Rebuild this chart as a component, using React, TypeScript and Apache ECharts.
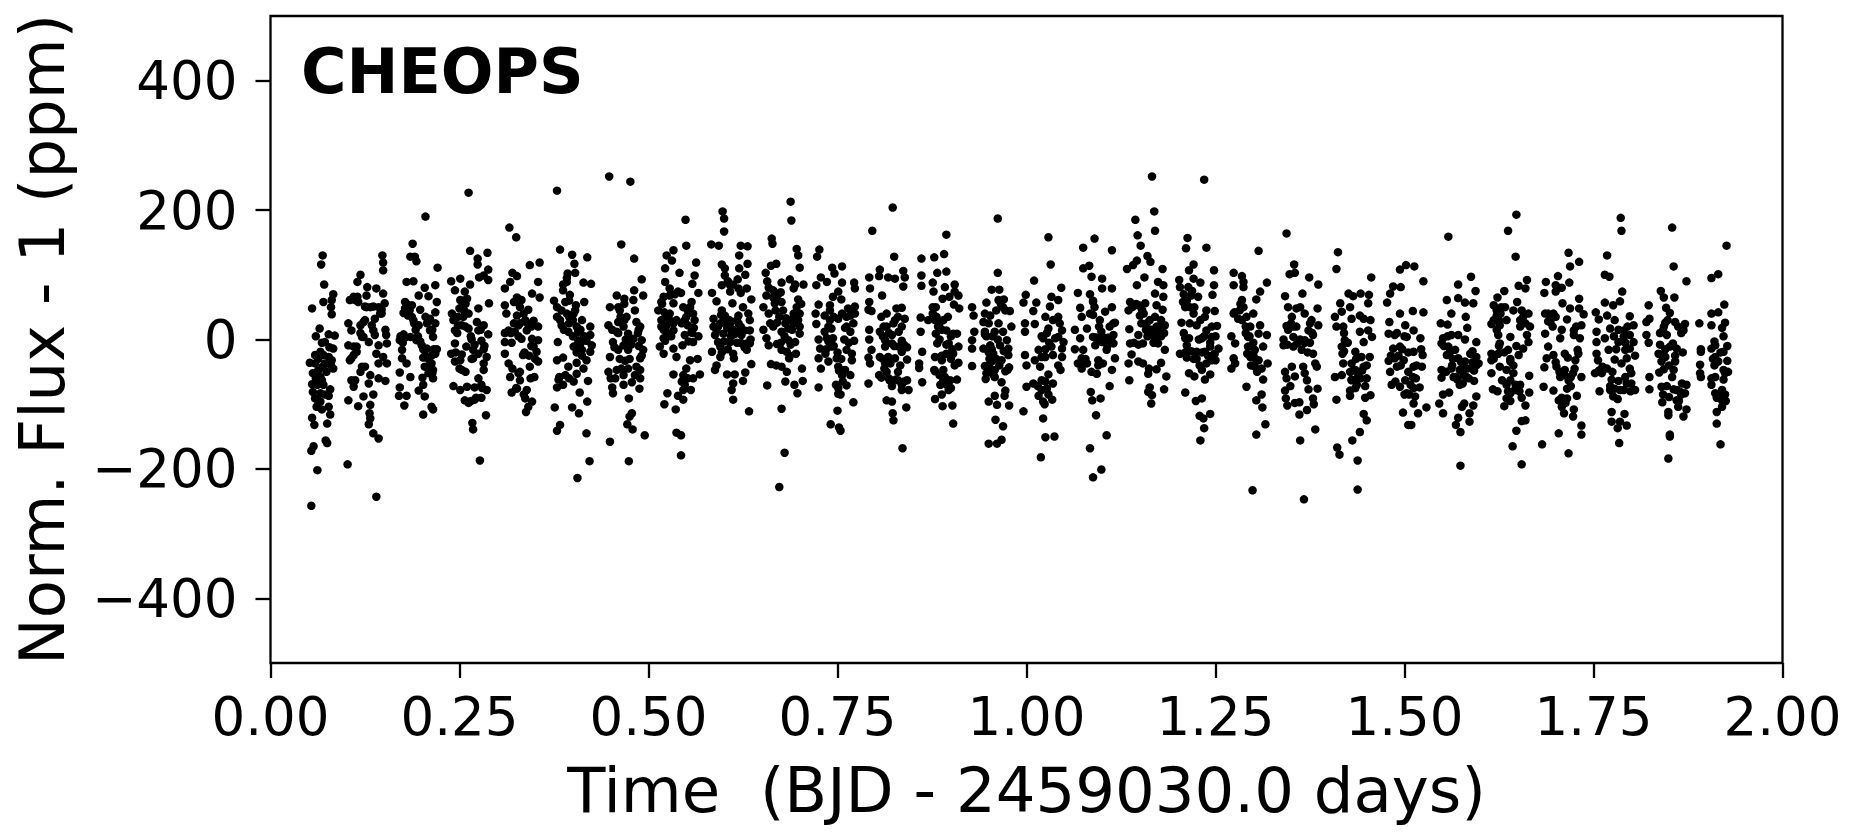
import React, { useEffect, useRef } from "react";
import * as echarts from "echarts";

const xTicks = [0, 0.25, 0.5, 0.75, 1, 1.25, 1.5, 1.75, 2];
const yTicks = [-400, -200, 0, 200, 400];
const panelLabel = "CHEOPS";
const xTitle = "Time  (BJD - 2459030.0 days)";
const yTitle = "Norm. Flux - 1 (ppm)";

const orbit01 = [[.054,-257],[.062,-202],[.054,-172],[.057,-165],[.073,-156],[.075,-160],[.055,-121],[.058,-132],[.075,-130],[.079,-116],[.061,-104],[.068,-108],[.077,-104],[.063,-94],[.059,-91],[.077,-87],[.056,-81],[.055,-69],[.066,-83],[.070,-70],[.079,-77],[.066,-58],[.063,-48],[.068,-63],[.052,-36],[.059,-37],[.072,-37],[.083,-45],[.081,-32],[.083,-14],[.066,-19],[.059,-24],[.070,-24],[.077,-27],[.072,-4],[.077,8],[.085,6],[.060,5],[.065,17],[.055,48],[.070,58],[.081,61],[.083,70],[.081,39],[.080,50],[.071,85],[.067,116],[.069,130],[.062,-70],[.072,-85],[.060,-60],[.074,-50],[.063,-30],[.078,-12],[.056,-52],[.066,-96],[.069,-42],[.080,-40],[.068,-5]];
const orbit02 = [[.102,-193],[.140,-243],[.103,-94],[.116,-103],[.132,-101],[.131,-114],[.132,-122],[.130,-131],[.136,-145],[.143,-153],[.123,-88],[.136,-85],[.107,-63],[.110,-73],[.130,-68],[.143,-60],[.152,-64],[.119,-50],[.125,-42],[.132,-55],[.105,-32],[.110,-24],[.140,-22],[.149,-27],[.154,-37],[.143,-37],[.103,-9],[.114,-11],[.121,4],[.130,-4],[.143,-9],[.154,-6],[.153,7],[.152,15],[.136,14],[.119,10],[.107,14],[.103,25],[.123,27],[.138,32],[.147,40],[.143,50],[.151,56],[.132,50],[.125,51],[.105,61],[.115,66],[.127,68],[.149,71],[.140,79],[.128,81],[.115,89],[.119,100],[.149,107],[.149,119],[.148,130],[.112,61],[.110,66],[.116,58],[.119,22],[.125,30],[.110,-11],[.114,-19],[.107,-29],[.123,4],[.134,22],[.138,7],[.145,40],[.147,46],[.127,50],[.136,51],[.121,-42],[.112,-63]];
const orbit03 = [[.205,190],[.188,148],[.185,128],[.191,128],[.193,121],[.221,111],[.180,89],[.189,90],[.218,84],[.204,80],[.209,67],[.196,68],[.178,58],[.220,58],[.187,53],[.198,46],[.176,41],[.218,42],[.182,37],[.189,30],[.207,25],[.218,25],[.196,22],[.211,14],[.176,8],[.185,4],[.215,4],[.171,-1],[.193,-1],[.200,-9],[.174,-16],[.207,-14],[.218,-22],[.174,-29],[.180,-37],[.202,-28],[.213,-37],[.204,-42],[.171,-51],[.185,-58],[.201,-59],[.215,-47],[.215,-60],[.209,-52],[.171,-74],[.202,-70],[.196,-79],[.170,-87],[.180,-87],[.204,-88],[.177,-102],[.213,-104],[.202,-116],[.215,-108],[.180,55],[.184,45],[.187,35],[.190,25],[.192,15],[.195,5],[.198,-3],[.202,-15],[.205,-25],[.209,-30],[.213,-25],[.210,-40],[.214,-52],[.182,50],[.178,48],[.172,5],[.175,-5],[.178,3],[.205,35],[.211,32],[.214,15],[.216,-15],[.220,-15]];
const orbit04 = [[.262,227],[.264,137],[.287,134],[.274,125],[.274,116],[.288,108],[.282,99],[.288,92],[.276,96],[.239,90],[.251,94],[.264,85],[.244,76],[.257,74],[.251,61],[.260,63],[.289,56],[.275,48],[.253,50],[.262,40],[.240,40],[.242,30],[.253,22],[.273,27],[.282,22],[.262,17],[.244,14],[.275,14],[.288,8],[.266,0],[.279,-2],[.244,-6],[.259,-11],[.268,-16],[.282,-15],[.239,-22],[.253,-23],[.275,-22],[.286,-27],[.251,-32],[.268,-29],[.244,-34],[.282,-37],[.253,-47],[.282,-47],[.275,-60],[.242,-72],[.251,-78],[.260,-73],[.270,-74],[.279,-70],[.286,-78],[.279,-90],[.270,-93],[.262,-98],[.257,-94],[.285,-117],[.267,-129],[.268,-139],[.277,-187],[.255,60],[.258,55],[.256,45],[.250,48],[.248,35],[.255,35],[.248,22],[.258,20],[.247,10],[.265,5],[.270,-8],[.266,-30],[.278,15],[.283,-10],[.258,-50],[.250,-45],[.245,-20],[.272,-90],[.265,-95],[.280,-75]];
const orbit05 = [[.316,173],[.325,158],[.343,115],[.356,119],[.320,103],[.326,98],[.317,89],[.354,89],[.310,79],[.346,71],[.356,65],[.326,58],[.332,61],[.310,53],[.341,46],[.312,40],[.326,37],[.337,30],[.348,29],[.354,20],[.328,22],[.315,14],[.339,14],[.323,12],[.310,-4],[.319,-5],[.332,1],[.346,1],[.354,-1],[.348,-11],[.310,-22],[.334,-24],[.352,-19],[.315,-37],[.343,-42],[.354,-34],[.328,-52],[.317,-58],[.330,-63],[.349,-58],[.319,-82],[.326,-76],[.339,-78],[.337,-91],[.346,-96],[.341,-104],[.338,-112],[.326,65],[.330,50],[.322,58],[.335,40],[.330,25],[.322,25],[.340,25],[.345,20],[.318,10],[.328,5],[.345,-10],[.336,-20],[.310,10],[.342,-25],[.350,-30],[.320,-45],[.330,-50],[.344,-60],[.325,-75],[.335,-85]];
const orbit06 = [[.379,230],[.383,139],[.399,131],[.419,127],[.402,117],[.393,102],[.403,103],[.414,88],[.424,86],[.392,89],[.387,76],[.396,69],[.415,58],[.379,50],[.390,58],[.404,53],[.379,35],[.392,40],[.403,45],[.385,22],[.412,30],[.423,20],[.394,12],[.407,12],[.423,7],[.380,-4],[.407,-1],[.425,-9],[.401,-11],[.412,-16],[.423,-19],[.379,-32],[.387,-28],[.405,-36],[.418,-32],[.394,-42],[.414,-45],[.382,-58],[.390,-55],[.405,-53],[.420,-64],[.401,-65],[.387,-70],[.379,-74],[.409,-82],[.419,-96],[.376,-105],[.399,-105],[.408,-114],[.383,-132],[.379,-141],[.418,-145],[.422,-188],[.406,-214],[.395,35],[.400,30],[.405,20],[.410,15],[.400,5],[.415,5],[.418,-2],[.405,-10],[.410,-6],[.405,-20],[.412,-25],[.395,25],[.385,45],[.383,30],[.388,15],[.381,-62],[.395,-60],[.392,95],[.387,85],[.395,60],[.401,40],[.375,60]];
const orbit07 = [[.448,252],[.476,244],[.464,147],[.481,125],[.491,93],[.481,76],[.493,68],[.458,68],[.468,63],[.480,61],[.449,50],[.462,45],[.482,45],[.471,35],[.460,27],[.447,22],[.484,27],[.467,20],[.489,20],[.458,12],[.473,9],[.491,-1],[.453,-4],[.467,-9],[.480,1],[.460,-16],[.473,-16],[.493,-16],[.449,-27],[.489,-29],[.469,-33],[.484,-42],[.458,-47],[.447,-50],[.473,-45],[.489,-47],[.467,-55],[.450,-60],[.489,-60],[.478,-66],[.467,-70],[.452,-74],[.488,-76],[.453,-83],[.474,-91],[.478,-114],[.475,-119],[.472,-131],[.479,-139],[.495,-148],[.449,-158],[.474,-188],[.460,50],[.463,35],[.468,30],[.460,10],[.452,15],[.470,0],[.477,-8],[.455,-12],[.462,-30],[.475,-30],[.487,15],[.491,-25],[.486,10],[.487,-10],[.456,-60],[.464,-45],[.482,-55],[.468,55]];
const orbit08 = [[.549,185],[.550,145],[.533,138],[.524,130],[.531,122],[.563,119],[.522,110],[.541,103],[.561,99],[.522,89],[.558,86],[.528,79],[.539,74],[.566,72],[.520,66],[.533,56],[.557,58],[.517,58],[.546,50],[.513,45],[.528,40],[.559,40],[.550,35],[.517,30],[.537,30],[.561,30],[.524,22],[.533,14],[.557,12],[.548,7],[.566,5],[.520,2],[.559,-4],[.515,-11],[.545,-9],[.533,-14],[.520,-22],[.537,-27],[.565,-30],[.555,-32],[.550,-45],[.568,-54],[.533,-54],[.559,-60],[.544,-65],[.546,-78],[.556,-78],[.525,-83],[.539,-87],[.546,-93],[.521,-100],[.536,-108],[.537,-144],[.543,-148],[.543,-179],[.518,55],[.521,42],[.524,35],[.528,30],[.520,15],[.525,10],[.533,25],[.530,5],[.517,20],[.522,-2],[.548,30],[.552,22],[.555,50],[.560,18],[.544,25],[.553,-3],[.558,10],[.528,68],[.535,70],[.543,72],[.552,45],[.546,-55],[.552,-60],[.548,-70]];
const orbit09 = [[.598,198],[.600,187],[.600,167],[.583,147],[.593,145],[.622,145],[.631,144],[.620,130],[.631,117],[.597,116],[.601,110],[.620,110],[.628,100],[.601,99],[.618,93],[.597,84],[.608,84],[.630,79],[.619,79],[.608,74],[.584,72],[.636,62],[.590,59],[.611,56],[.625,50],[.597,45],[.632,40],[.586,32],[.601,37],[.619,37],[.608,25],[.634,30],[.586,20],[.595,25],[.619,25],[.634,14],[.588,7],[.610,12],[.599,9],[.623,7],[.592,-4],[.608,-4],[.630,-6],[.634,-6],[.595,-11],[.630,-16],[.584,-19],[.612,-22],[.595,-27],[.613,-29],[.590,-40],[.588,-47],[.636,-38],[.628,-51],[.604,-54],[.614,-54],[.625,-64],[.612,-68],[.610,-78],[.612,-93],[.633,-111],[.596,38],[.600,28],[.604,18],[.609,5],[.612,15],[.617,30],[.622,20],[.627,14],[.617,-5],[.600,-3],[.605,-15],[.622,-5],[.627,-12],[.635,0],[.590,15],[.592,20],[.605,90],[.612,85],[.622,72],[.597,-20],[.607,30],[.613,8],[.618,10]];
const orbit10 = [[.688,213],[.689,184],[.663,156],[.664,148],[.696,140],[.698,130],[.669,117],[.662,114],[.700,111],[.655,103],[.687,93],[.657,90],[.676,88],[.705,85],[.692,79],[.665,76],[.656,68],[.672,71],[.698,62],[.676,58],[.667,56],[.652,50],[.692,40],[.659,40],[.700,40],[.673,35],[.689,30],[.698,30],[.670,26],[.681,25],[.652,15],[.685,17],[.676,12],[.700,9],[.656,2],[.685,-1],[.694,-4],[.659,-9],[.670,-7],[.676,-16],[.683,-19],[.695,-22],[.686,-29],[.662,-38],[.669,-40],[.676,-42],[.683,-50],[.703,-45],[.681,-65],[.704,-64],[.657,-71],[.693,-70],[.697,-83],[.676,-107],[.680,-175],[.673,-228],[.659,80],[.667,65],[.670,62],[.675,73],[.668,45],[.695,35],[.700,20],[.690,15],[.680,5],[.675,-5],[.688,-8],[.692,25],[.696,50],[.661,25],[.665,20],[.682,33],[.687,-25],[.665,65],[.678,45],[.694,85],[.702,55]];
const orbit11 = [[.726,139],[.723,128],[.756,113],[.743,111],[.746,102],[.728,96],[.736,89],[.722,84],[.756,88],[.772,88],[.773,79],[.751,74],[.744,66],[.755,62],[.725,54],[.740,53],[.764,48],[.773,51],[.721,40],[.733,37],[.756,40],[.767,37],[.740,30],[.722,24],[.751,32],[.771,25],[.742,17],[.762,20],[.767,12],[.725,0],[.736,2],[.744,2],[.759,0],[.772,-2],[.727,-14],[.742,-11],[.734,-22],[.762,-16],[.769,-22],[.725,-29],[.738,-34],[.749,-29],[.769,-32],[.728,-45],[.751,-42],[.760,-47],[.756,-55],[.767,-55],[.725,-74],[.748,-70],[.762,-71],[.751,-84],[.754,-85],[.771,-97],[.750,-110],[.741,-131],[.752,-136],[.754,-141],[.740,45],[.745,35],[.738,20],[.733,12],[.745,-10],[.738,-3],[.735,-15],[.750,-20],[.755,-30],[.752,-48],[.757,-48],[.762,35],[.768,45],[.760,18],[.765,-5],[.773,40],[.757,-65],[.751,-75]];
const orbit12 = [[.796,168],[.823,204],[.825,128],[.806,108],[.837,106],[.805,98],[.839,96],[.792,96],[.817,96],[.826,94],[.793,79],[.837,82],[.809,68],[.792,58],[.795,44],[.791,46],[.835,49],[.828,48],[.815,40],[.808,35],[.839,32],[.826,30],[.835,20],[.811,20],[.792,15],[.831,12],[.806,12],[.822,7],[.813,-1],[.792,0],[.822,-6],[.831,-11],[.842,-12],[.795,-16],[.813,-11],[.835,-19],[.791,-28],[.806,-27],[.817,-27],[.842,-31],[.826,-29],[.793,-37],[.813,-37],[.833,-40],[.815,-50],[.808,-59],[.791,-68],[.819,-63],[.830,-63],[.842,-63],[.822,-72],[.835,-78],[.844,-78],[.815,-94],[.822,-96],[.841,-105],[.823,-114],[.824,-125],[.836,-168],[.824,25],[.830,35],[.815,20],[.810,5],[.818,10],[.825,-10],[.835,-2],[.838,-8],[.812,-45],[.818,-60],[.827,-62],[.835,-70],[.810,-30],[.820,-37],[.805,-55],[.830,-50],[.838,-65]];
const orbit13 = [[.894,162],[.878,127],[.891,132],[.861,125],[.861,99],[.882,103],[.894,105],[.861,83],[.876,88],[.877,74],[.892,81],[.905,85],[.905,74],[.910,68],[.898,66],[.889,63],[.904,54],[.911,48],[.896,35],[.876,40],[.860,34],[.879,30],[.890,30],[.883,20],[.880,9],[.860,12],[.894,14],[.903,9],[.908,9],[.882,-6],[.897,-6],[.910,-11],[.862,-19],[.894,-22],[.903,-22],[.879,-27],[.888,-32],[.910,-36],[.858,-37],[.858,-44],[.879,-49],[.890,-47],[.890,-63],[.908,-62],[.899,-63],[.862,-66],[.886,-70],[.897,-78],[.888,-85],[.879,-92],[.889,-103],[.902,-102],[.903,-130],[.881,35],[.885,25],[.888,15],[.885,0],[.888,-25],[.894,-8],[.900,5],[.902,-15],[.900,-30],[.878,-47],[.885,-55],[.892,-58],[.895,-70],[.900,-75],[.876,50],[.880,50],[.870,30],[.905,-40]];
const orbit14 = [[.962,187],[.962,103],[.954,77],[.964,77],[.963,61],[.970,62],[.947,57],[.969,50],[.978,44],[.928,50],[.930,37],[.945,40],[.952,37],[.943,27],[.963,25],[.931,12],[.980,20],[.969,12],[.958,12],[.947,5],[.928,-1],[.974,-1],[.952,-9],[.928,-14],[.943,-14],[.965,-9],[.976,-14],[.956,-22],[.976,-24],[.967,-32],[.954,-34],[.945,-41],[.928,-41],[.977,-43],[.952,-47],[.972,-49],[.956,-54],[.946,-61],[.958,-58],[.967,-66],[.972,-79],[.971,-87],[.958,-87],[.950,-96],[.961,-101],[.977,-102],[.959,-124],[.969,-134],[.950,-161],[.961,-161],[.967,-155],[.960,45],[.966,55],[.972,45],[.950,25],[.955,5],[.945,8],[.962,0],[.954,-15],[.950,-20],[.960,-30],[.950,-40],[.964,-40],[.970,-18],[.975,-47],[.947,-52],[.951,-30],[.945,12],[.958,-47]];
const orbit15 = [[1.029,158],[1.032,116],[1.010,91],[1.046,80],[1.033,66],[1.042,61],[1.013,57],[1.031,51],[1.009,44],[1.025,35],[1.042,35],[1.011,24],[1.044,25],[1.029,17],[1.047,14],[1.022,2],[1.042,4],[1.049,-4],[1.033,-11],[1.016,-16],[1.047,-14],[1.025,-27],[1.011,-32],[1.035,-24],[1.047,-27],[1.018,-42],[1.042,-40],[1.045,-47],[1.029,-54],[1.020,-63],[1.035,-68],[1.009,-68],[1.027,-76],[1.016,-87],[1.034,-93],[1.024,-100],[1.022,-122],[1.025,-151],[1.037,-150],[1.019,-182],[.999,69],[.996,57],[.998,25],[.998,12],[.998,-24],[1.000,-40],[1.000,-73],[.996,-111],[1.020,5],[1.030,-5],[1.038,2],[1.025,-15],[1.020,-27],[1.027,10],[1.035,30],[1.025,-65],[1.020,-78],[1.015,-72],[1.029,-85],[1.022,-96]];
const orbit16 = [[1.090,156],[1.075,142],[1.113,138],[1.083,114],[1.075,110],[1.086,97],[1.100,94],[1.100,79],[1.113,79],[1.068,72],[1.084,70],[1.088,58],[1.113,50],[1.071,49],[1.104,43],[1.088,38],[1.073,35],[1.097,30],[1.117,26],[1.064,15],[1.080,17],[1.110,20],[1.099,12],[1.071,2],[1.088,4],[1.115,7],[1.104,-4],[1.115,-6],[1.064,-15],[1.075,-16],[1.091,-9],[1.106,-16],[1.073,-29],[1.095,-32],[1.117,-29],[1.080,-37],[1.068,-37],[1.101,-37],[1.073,-45],[1.093,-53],[1.086,-50],[1.113,-47],[1.110,-72],[1.085,-81],[1.098,-91],[1.087,-94],[1.092,-117],[1.106,-148],[1.084,-168],[1.099,-201],[1.088,-213],[1.090,50],[1.096,20],[1.092,3],[1.100,5],[1.094,-2],[1.100,-4],[1.108,3],[1.112,0],[1.107,-10],[1.088,60],[1.078,-30],[1.073,-40],[1.084,40],[1.115,25],[1.095,-40]];
const orbit17 = [[1.166,252],[1.169,198],[1.144,185],[1.170,168],[1.147,161],[1.151,145],[1.160,129],[1.146,122],[1.164,120],[1.141,115],[1.133,109],[1.180,109],[1.156,96],[1.174,89],[1.146,84],[1.181,84],[1.170,71],[1.181,66],[1.137,58],[1.157,56],[1.148,53],[1.172,53],[1.135,45],[1.180,46],[1.150,37],[1.170,35],[1.159,25],[1.183,22],[1.136,16],[1.172,20],[1.148,7],[1.179,9],[1.168,7],[1.137,-6],[1.154,-6],[1.174,-6],[1.183,-16],[1.139,-23],[1.135,-37],[1.148,-34],[1.154,-37],[1.178,-36],[1.162,-45],[1.172,-46],[1.161,-53],[1.185,-57],[1.136,-63],[1.163,-74],[1.182,-77],[1.161,-81],[1.166,-86],[1.165,-99],[1.145,55],[1.140,50],[1.150,52],[1.155,40],[1.152,25],[1.158,15],[1.165,15],[1.172,10],[1.178,5],[1.182,10],[1.160,5],[1.168,-5],[1.175,20],[1.148,-8],[1.142,-5],[1.153,45],[1.178,30],[1.170,0],[1.163,30]];
const orbit18 = [[1.235,247],[1.213,157],[1.211,141],[1.238,142],[1.221,116],[1.215,107],[1.248,107],[1.202,92],[1.221,94],[1.230,88],[1.214,81],[1.248,84],[1.203,81],[1.246,69],[1.218,68],[1.227,66],[1.207,58],[1.210,50],[1.216,50],[1.238,45],[1.249,44],[1.221,40],[1.236,35],[1.205,26],[1.216,25],[1.225,22],[1.252,21],[1.238,14],[1.210,2],[1.232,2],[1.245,4],[1.212,-9],[1.243,-11],[1.254,-14],[1.203,-22],[1.225,-19],[1.236,-19],[1.249,-22],[1.212,-28],[1.221,-30],[1.245,-32],[1.229,-40],[1.238,-37],[1.232,-47],[1.215,-52],[1.222,-57],[1.243,-54],[1.236,-62],[1.210,-82],[1.224,-95],[1.232,-91],[1.243,-115],[1.229,-118],[1.234,-122],[1.235,-137],[1.230,-156],[1.208,70],[1.212,60],[1.219,75],[1.222,50],[1.230,30],[1.235,5],[1.243,-5],[1.240,-25],[1.245,-25],[1.232,-20],[1.250,-32],[1.225,-30],[1.215,2],[1.208,10],[1.210,-20],[1.245,20],[1.250,5],[1.218,-18],[1.228,0]];
const orbit19 = [[1.307,137],[1.274,103],[1.285,98],[1.318,88],[1.287,89],[1.274,84],[1.309,74],[1.287,81],[1.304,62],[1.285,61],[1.287,50],[1.274,40],[1.300,40],[1.291,35],[1.280,32],[1.309,22],[1.296,20],[1.271,5],[1.318,7],[1.293,4],[1.307,9],[1.276,-6],[1.293,-11],[1.313,-11],[1.302,-16],[1.274,-29],[1.296,-27],[1.307,-32],[1.319,-37],[1.276,-37],[1.271,-45],[1.302,-42],[1.311,-45],[1.313,-62],[1.291,-73],[1.311,-85],[1.304,-94],[1.312,-105],[1.316,-131],[1.304,-147],[1.299,-233],[1.275,42],[1.282,45],[1.290,20],[1.285,30],[1.295,5],[1.292,-22],[1.300,-22],[1.297,-40],[1.303,-30],[1.305,-50],[1.298,-10],[1.290,10],[1.283,55],[1.300,-5]];
const orbit20 = [[1.344,164],[1.354,116],[1.348,101],[1.355,103],[1.374,96],[1.386,85],[1.365,71],[1.342,67],[1.385,48],[1.346,50],[1.357,48],[1.368,40],[1.351,35],[1.377,30],[1.344,21],[1.386,22],[1.357,20],[1.373,14],[1.353,4],[1.379,7],[1.340,-9],[1.368,-1],[1.353,-11],[1.364,-16],[1.379,-22],[1.382,-37],[1.384,-42],[1.351,-42],[1.366,-42],[1.342,-50],[1.368,-52],[1.355,-57],[1.344,-60],[1.371,-63],[1.349,-72],[1.342,-79],[1.373,-77],[1.385,-76],[1.343,-91],[1.379,-91],[1.345,-102],[1.355,-98],[1.361,-97],[1.380,-100],[1.371,-109],[1.361,-116],[1.382,-139],[1.362,-156],[1.367,-247],[1.350,25],[1.346,15],[1.353,20],[1.340,0],[1.345,-8],[1.358,-6],[1.362,0],[1.375,-5],[1.375,25],[1.362,50],[1.372,-20],[1.368,-5],[1.378,10]];
const orbit21 = [[1.412,135],[1.410,109],[1.456,96],[1.426,71],[1.432,67],[1.442,71],[1.453,69],[1.452,56],[1.415,56],[1.428,50],[1.417,43],[1.408,35],[1.441,37],[1.455,30],[1.430,32],[1.419,20],[1.446,32],[1.441,12],[1.452,14],[1.410,20],[1.421,-1],[1.457,4],[1.446,-4],[1.417,-11],[1.435,-19],[1.454,-27],[1.443,-27],[1.419,-37],[1.430,-37],[1.446,-42],[1.435,-47],[1.439,-52],[1.408,-58],[1.417,-55],[1.450,-60],[1.430,-63],[1.437,-70],[1.428,-79],[1.448,-72],[1.455,-86],[1.448,-90],[1.428,-87],[1.410,-93],[1.446,-115],[1.450,-125],[1.441,-143],[1.431,-156],[1.411,-167],[1.414,-178],[1.438,-187],[1.438,-232],[1.425,-5],[1.420,10],[1.418,-22],[1.432,-48],[1.436,-30],[1.444,-48],[1.430,-62],[1.428,-50],[1.437,-60],[1.442,-60],[1.450,-40],[1.435,-75],[1.420,-18]];
const orbit22 = [[1.502,115],[1.494,108],[1.485,82],[1.495,81],[1.481,71],[1.477,57],[1.494,40],[1.480,27],[1.479,9],[1.487,7],[1.501,22],[1.485,-14],[1.494,-11],[1.503,4],[1.479,-33],[1.487,-29],[1.499,-32],[1.481,-50],[1.490,-42],[1.483,-70],[1.494,-73],[1.501,-63],[1.503,-83],[1.498,-113],[1.505,-132],[1.513,113],[1.525,90],[1.511,44],[1.525,42],[1.512,14],[1.521,2],[1.512,-19],[1.524,-24],[1.523,-42],[1.511,-58],[1.512,-42],[1.520,-74],[1.514,-88],[1.529,-105],[1.518,-114],[1.509,-132],[1.512,-99],[1.490,10],[1.482,-25],[1.492,-25],[1.497,-15],[1.488,-65],[1.500,-85],[1.505,-20],[1.516,-40],[1.505,-50],[1.508,-70],[1.512,-75],[1.515,-60],[1.495,-40],[1.500,5],[1.522,-15],[1.506,-85]];
const orbit23 = [[1.558,159],[1.588,97],[1.571,85],[1.594,75],[1.556,61],[1.571,64],[1.580,57],[1.591,56],[1.562,40],[1.581,35],[1.548,25],[1.557,23],[1.583,18],[1.571,7],[1.562,7],[1.551,2],[1.580,0],[1.595,-4],[1.549,-6],[1.558,-11],[1.567,-16],[1.587,-22],[1.556,-24],[1.595,-27],[1.571,-29],[1.580,-34],[1.598,-37],[1.549,-47],[1.562,-45],[1.589,-45],[1.573,-47],[1.549,-59],[1.565,-58],[1.582,-58],[1.592,-64],[1.573,-70],[1.559,-82],[1.551,-85],[1.595,-88],[1.546,-99],[1.579,-99],[1.576,-104],[1.591,-102],[1.551,-114],[1.586,-114],[1.571,-121],[1.586,-127],[1.568,-132],[1.574,-143],[1.574,-195],[1.557,5],[1.552,-10],[1.560,-20],[1.575,-35],[1.578,-55],[1.583,-45],[1.590,-35],[1.595,-40],[1.570,-62],[1.577,-68],[1.563,-40],[1.555,-50],[1.568,-58],[1.585,-60],[1.592,-48],[1.578,-42],[1.590,-18],[1.564,-30]];
const orbit24 = [[1.648,193],[1.637,168],[1.647,128],[1.662,92],[1.651,83],[1.660,79],[1.632,75],[1.623,65],[1.649,58],[1.618,53],[1.633,50],[1.664,40],[1.622,37],[1.644,45],[1.653,30],[1.615,24],[1.626,22],[1.666,20],[1.635,30],[1.653,20],[1.624,7],[1.640,4],[1.662,7],[1.626,-6],[1.664,-4],[1.657,-14],[1.637,-16],[1.615,-22],[1.624,-22],[1.651,-24],[1.615,-32],[1.640,-34],[1.626,-42],[1.635,-47],[1.615,-52],[1.644,-52],[1.665,-56],[1.629,-63],[1.640,-63],[1.653,-70],[1.617,-77],[1.623,-80],[1.665,-82],[1.646,-78],[1.640,-83],[1.655,-90],[1.635,-91],[1.632,-103],[1.660,-102],[1.655,-126],[1.660,-125],[1.648,-141],[1.643,-165],[1.655,-193],[1.622,45],[1.627,40],[1.618,30],[1.625,30],[1.622,15],[1.625,-10],[1.618,-30],[1.632,-20],[1.640,-30],[1.644,-40],[1.635,-70],[1.647,-70],[1.637,-80],[1.652,-80],[1.640,-95],[1.657,35],[1.660,25],[1.655,45],[1.628,50],[1.648,-10]];
const orbit25 = [[1.717,134],[1.731,120],[1.719,113],[1.703,98],[1.687,89],[1.718,88],[1.700,84],[1.708,80],[1.685,72],[1.700,74],[1.731,63],[1.709,56],[1.719,48],[1.731,48],[1.737,39],[1.686,40],[1.697,40],[1.715,31],[1.693,27],[1.734,22],[1.708,15],[1.686,9],[1.724,14],[1.732,2],[1.706,2],[1.724,7],[1.690,-11],[1.729,-16],[1.697,-24],[1.688,-29],[1.716,-28],[1.726,-32],[1.685,-43],[1.701,-42],[1.712,-47],[1.723,-52],[1.734,-58],[1.706,-58],[1.717,-63],[1.684,-73],[1.697,-79],[1.715,-76],[1.728,-87],[1.704,-94],[1.715,-91],[1.708,-104],[1.724,-108],[1.711,-114],[1.723,-119],[1.734,-133],[1.704,-145],[1.734,-147],[1.682,-162],[1.717,-176],[1.690,40],[1.693,32],[1.700,35],[1.690,28],[1.696,20],[1.712,-22],[1.705,-50],[1.712,-55],[1.700,-35],[1.720,-58],[1.730,-22],[1.725,-45],[1.720,-72],[1.708,-90],[1.713,-98],[1.727,20]];
const orbit26 = [[1.786,188],[1.787,168],[1.768,130],[1.765,100],[1.771,97],[1.788,74],[1.785,59],[1.765,57],[1.776,53],[1.753,42],[1.768,37],[1.798,36],[1.757,31],[1.778,30],[1.803,22],[1.772,17],[1.790,14],[1.754,12],[1.765,2],[1.798,7],[1.754,-4],[1.783,-4],[1.803,-4],[1.770,-16],[1.792,-16],[1.754,-22],[1.805,-25],[1.778,-31],[1.794,-29],[1.756,-32],[1.787,-37],[1.768,-45],[1.752,-52],[1.798,-45],[1.761,-52],[1.800,-52],[1.774,-62],[1.792,-58],[1.783,-64],[1.794,-68],[1.772,-78],[1.805,-78],[1.790,-78],[1.758,-80],[1.778,-76],[1.782,-92],[1.774,-112],[1.791,-115],[1.774,-127],[1.785,-127],[1.794,-133],[1.782,-137],[1.784,-160],[1.783,15],[1.777,5],[1.792,-5],[1.798,-14],[1.780,-15],[1.790,5],[1.795,20],[1.772,-72],[1.776,-88],[1.785,-78],[1.800,-68],[1.757,-48],[1.762,-42],[1.799,-80],[1.775,-50]];
const orbit27 = [[1.854,173],[1.856,113],[1.873,90],[1.839,75],[1.843,65],[1.857,65],[1.823,53],[1.846,49],[1.851,41],[1.824,32],[1.820,27],[1.858,27],[1.871,24],[1.845,26],[1.842,14],[1.869,14],[1.820,7],[1.847,7],[1.823,-5],[1.838,-8],[1.851,-11],[1.860,-14],[1.836,-22],[1.868,-20],[1.845,-27],[1.840,-34],[1.858,-34],[1.843,-46],[1.837,-51],[1.856,-47],[1.854,-58],[1.824,-58],[1.867,-68],[1.873,-70],[1.840,-73],[1.847,-72],[1.824,-77],[1.856,-77],[1.865,-81],[1.871,-83],[1.842,-85],[1.850,-89],[1.841,-97],[1.860,-94],[1.862,-104],[1.873,-108],[1.849,-112],[1.849,-117],[1.869,-119],[1.851,-147],[1.851,-150],[1.849,-184],[1.843,20],[1.848,30],[1.838,10],[1.845,-15],[1.855,-6],[1.862,20],[1.866,10],[1.843,-25],[1.850,-40],[1.858,-25],[1.860,-78],[1.866,-85],[1.863,-95]];
const orbit28 = [[1.926,145],[1.915,101],[1.906,95],[1.923,54],[1.906,40],[1.915,42],[1.890,25],[1.924,26],[1.906,22],[1.920,18],[1.922,5],[1.911,-9],[1.927,-10],[1.892,-15],[1.906,-14],[1.922,-19],[1.892,-19],[1.911,-27],[1.927,-33],[1.915,-34],[1.891,-39],[1.922,-47],[1.892,-58],[1.891,-52],[1.911,-58],[1.924,-52],[1.906,-70],[1.920,-78],[1.911,-83],[1.924,-85],[1.920,-94],[1.920,-104],[1.913,-112],[1.913,-130],[1.918,-162],[1.910,-3],[1.908,-30],[1.918,-20],[1.910,-40],[1.906,-60],[1.922,-62],[1.928,-50],[1.918,-85],[1.913,-90],[1.925,-95]];

const orbits = [orbit01, orbit02, orbit03, orbit04, orbit05, orbit06, orbit07, orbit08, orbit09, orbit10, orbit11, orbit12, orbit13, orbit14, orbit15, orbit16, orbit17, orbit18, orbit19, orbit20, orbit21, orbit22, orbit23, orbit24, orbit25, orbit26, orbit27, orbit28];

const FONT = "DejaVu Sans";

export default function App() {
  const ref = useRef<HTMLDivElement>(null);
  useEffect(() => {
    document.body.style.margin = "0";
    document.body.style.background = "#fff";
    const chart = echarts.init(ref.current!, null, { renderer: "svg" });
    chart.setOption({
      animation: false,
      backgroundColor: "#fff",
      grid: {
        left: 270.5,
        top: 16,
        width: 1512,
        height: 647,
        show: true,
        borderColor: "#000",
        borderWidth: 2.3,
        backgroundColor: "transparent",
        outerBoundsMode: "none",
      },
      graphic: [
        {
          type: "text",
          left: 301,
          top: 40,
          style: { text: panelLabel, font: `bold 62px "${FONT}"`, fill: "#000" },
        },
      ],
      xAxis: {
        type: "value",
        min: 0,
        max: 2,
        interval: 0.25,
        name: xTitle,
        nameLocation: "middle",
        nameGap: 96,
        nameTextStyle: { fontFamily: FONT, fontSize: 62.5, color: "#000" },
        axisLine: { show: false, onZero: false },
        axisTick: { show: true, length: 15, lineStyle: { color: "#000", width: 2.3 } },
        axisLabel: {
          show: true,
          margin: 27,
          fontFamily: FONT,
          fontSize: 53,
          color: "#000",
          formatter: (v: number) => (xTicks.includes(v) ? v.toFixed(2) : ""),
        },
        splitLine: { show: false },
      },
      yAxis: {
        type: "value",
        min: -500,
        max: 500,
        name: yTitle,
        nameLocation: "middle",
        nameGap: 197,
        nameTextStyle: { fontFamily: FONT, fontSize: 62.5, color: "#000" },
        axisLine: { show: false, onZero: false },
        axisTick: {
          show: true,
          length: 15,
          customValues: yTicks,
          lineStyle: { color: "#000", width: 2.3 },
        },
        axisLabel: {
          show: true,
          margin: 33,
          fontFamily: FONT,
          fontSize: 53,
          color: "#000",
          customValues: yTicks,
          formatter: (v: number) => String(v).replace("-", "\u2212"),
        },
        splitLine: { show: false },
      },
      series: [
        {
          type: "scatter",
          silent: true,
          symbol: "circle",
          symbolSize: 8.5,
          itemStyle: { color: "#000", opacity: 1 },
          data: orbits.flat(),
        },
      ],
    });
    return () => chart.dispose();
  }, []);
  return <div ref={ref} style={{ width: 1858, height: 836 }} />;
}
